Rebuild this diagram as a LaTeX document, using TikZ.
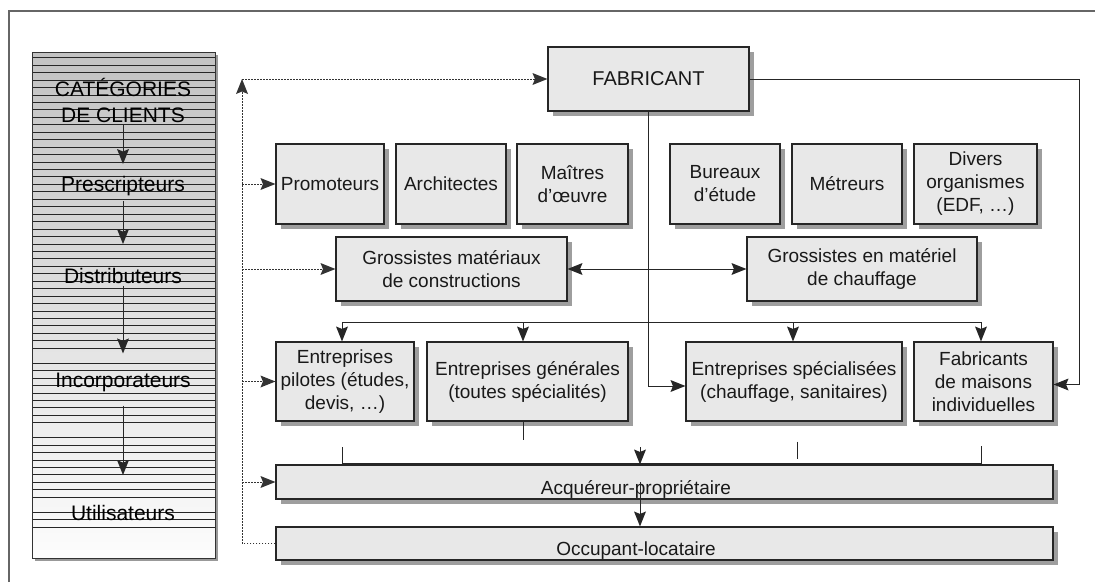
\documentclass[tikz,border=0pt]{standalone}
\usepackage{fontspec}
\setmainfont{Liberation Sans}
\usetikzlibrary{arrows.meta,shadows,calc}
\begin{document}
\begin{tikzpicture}[x=1pt,y=-1pt,
  shd/.style={general shadow={fill=black!38, shadow xshift=5pt, shadow yshift=-5pt}},
  bx/.style={draw=black!85, line width=1.1pt, fill=black!9, shd, inner sep=2pt, align=center,
             font=\fontsize{19}{23}\selectfont, text=black!90},
  coltext/.style={inner sep=2pt, align=center, font=\fontsize{21}{26}\selectfont, text=black},
  txt/.style={inner sep=0pt, font=\fontsize{19}{23}\selectfont, text=black!90},
  con/.style={draw=black!85, line width=1pt},
  tip/.tip={Stealth[length=15pt,width=12pt,inset=2.5pt,line width=0pt]},
  arr/.style={con, -tip},
  darr/.style={con, tip-tip},
  dot/.style={draw=black!80, line width=1pt, dash pattern=on 1.6pt off 1.4pt},
  dotarr/.style={dot, -tip},
]
\useasboundingbox (0,0) rectangle (1095,582);
% outer frame (top and left only)
\draw[black!60, line width=1.5pt] (9,582) -- (9,11) -- (1095,11);

% ---- left column ----
\fill[black!40] (35,55) rectangle (218,561);
\shade[top color=black!24, bottom color=black!1] (32,52) rectangle (215,558);
\foreach \k in {0,...,64}{
  \pgfmathsetmacro{\yy}{527-7.45*\k}
  \pgfmathparse{(\k==3||\k==13||\k==23||\yy<54)?0:1}
  \ifnum\pgfmathresult=1
    \draw[black!85, line width=0.8pt] (32,\yy) -- (215,\yy);
  \fi
}
\draw[black!80, line width=1pt] (32,52) rectangle (215,558);

\node[coltext] (cat) at (123,100) {CATÉGORIES\\DE CLIENTS};
\node[coltext] (pre) at (123,186) {Prescripteurs};
\node[coltext] (dis) at (123,276) {Distributeurs};
\node[coltext] (inc) at (123,382) {Incorporateurs};
\node[coltext] (uti) at (123,513) {Utilisateurs};
\draw[arr] ([yshift=-1pt]cat.south) -- ([yshift=10pt]pre.north);
\draw[arr] ([yshift=-3pt]pre.south) -- ([yshift=22pt]dis.north);
\draw[arr] ([yshift=0pt]dis.south) -- ([yshift=17pt]inc.north);
\draw[arr] ([yshift=-12pt]inc.south) -- ([yshift=28pt]uti.north);

% ---- boxes ----
\node[bx, minimum width=201pt, minimum height=64pt, font=\fontsize{20}{24}\selectfont] (fab) at (648.5,79) {FABRICANT};

\node[bx, minimum width=108pt, minimum height=80pt] (pro) at (330,184) {Promoteurs};
\node[bx, minimum width=110pt, minimum height=80pt] (arc) at (451,184) {Architectes};
\node[bx, minimum width=111pt, minimum height=80pt] (mai) at (572.5,184) {Maîtres\\d’œuvre};
\node[bx, minimum width=110pt, minimum height=80pt] (bur) at (725,184) {Bureaux\\d’étude};
\node[bx, minimum width=110pt, minimum height=80pt] (met) at (847,184) {Métreurs};
\node[bx, minimum width=123pt, minimum height=80pt] (div) at (975.5,184) {Divers\\organismes\\(EDF, …)};

\node[bx, minimum width=231pt, minimum height=64pt] (gm) at (451.5,269) {Grossistes matériaux\\de constructions};
\node[bx, minimum width=230pt, minimum height=64pt] (gc) at (862,269) {Grossistes en matériel\\de chauffage};

\node[bx, minimum width=138pt, minimum height=79pt] (ep) at (345,381.5) {Entreprises\\pilotes (études,\\devis, …)};
\node[bx, minimum width=201pt, minimum height=79pt] (eg) at (527.5,381.5) {Entreprises générales\\(toutes spécialités)};
\node[bx, minimum width=216pt, minimum height=79pt] (es) at (794,381.5) {Entreprises spécialisées\\(chauffage, sanitaires)};
\node[bx, minimum width=139pt, minimum height=79pt] (fm) at (983.5,381.5) {Fabricants\\de maisons\\individuelles};

\node[bx, minimum width=777pt, minimum height=34pt] (acq) at (664.5,482) {};
\node[txt] (acqt) at (636,489) {Acquéreur-propriétaire};
\node[bx, minimum width=777pt, minimum height=33pt] (occ) at (664.5,543.5) {};
\node[txt] (occt) at (636,551) {Occupant-locataire};

% ---- coordinates ----
\coordinate (vtop) at (242,79);
\coordinate (dl) at (342,322);
\coordinate (dr) at (981,322);
\coordinate (bl) at (342,463);
\coordinate (br) at (981,463);
\coordinate (ma) at (640,447);
\coordinate (fr) at (1079,79);

% ---- dotted connectors ----
\draw[dotarr] (occ.west) -| (vtop);
\draw[dotarr] (vtop) -- (fab.west);
\draw[dotarr] (vtop |- pro.west) -- (pro.west);
\draw[dotarr] (vtop |- gm.west) -- (gm.west);
\draw[dotarr] (vtop |- ep.west) -- (ep.west);
\draw[dotarr] (vtop |- acq.west) -- (acq.west);

% ---- solid connectors ----
\draw[arr] (fab.south) |- ([yshift=-4.5pt]es.west);
\draw[arr] (fab.east) -- (fr) |- ([yshift=-3pt]fm.east);
\draw[darr] (gm.east) -- (gc.west);

\draw[con] (dl) -- (dr);
\draw[arr] (dl) -- (dl |- ep.north);
\draw[arr] ([xshift=-4.5pt]eg.north |- dl) -- ([xshift=-4.5pt]eg.north);
\draw[arr] ([xshift=-1pt]es.north |- dl) -- ([xshift=-1pt]es.north);
\draw[arr] (dr) -- (dr |- fm.north);

\draw[con] ([yshift=16pt]bl) -- (bl) -- (br) -- ([yshift=17pt]br);
\draw[con] ([xshift=-4.5pt]eg.south) -- ++(0,18);
\draw[con] ([xshift=3pt]es.south) ++(0,20) -- ++(0,17);
\draw[arr] (ma) -- (ma |- acq.north);
\draw[arr] (ma |- acq.center) -- (ma |- occ.north);
\end{tikzpicture}
\end{document}
